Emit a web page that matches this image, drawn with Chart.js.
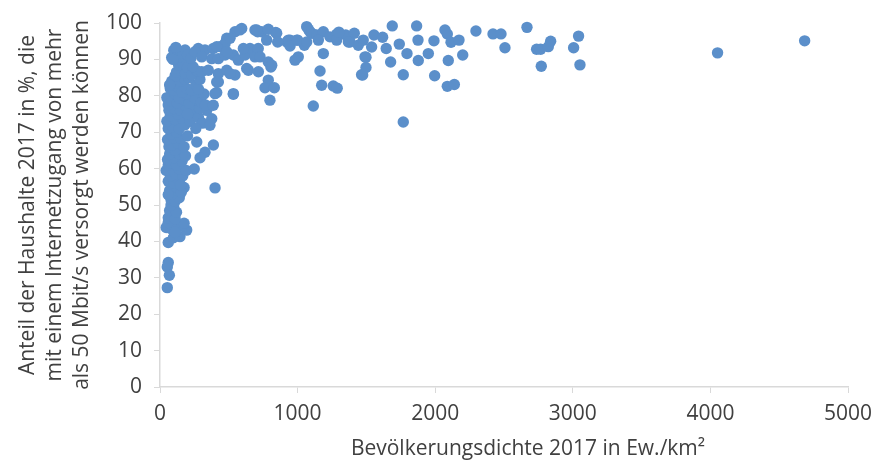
<!DOCTYPE html>
<html>
<head>
<meta charset="utf-8">
<script src="https://cdn.jsdelivr.net/npm/chart.js@4.4.1/dist/chart.umd.min.js"></script>
<style>
  html, body { margin: 0; padding: 0; background: #fff; }
</style>
</head>
<body>
<canvas id="breitbandChart" width="873" height="461"></canvas>
<script>
// Landkreise: [Bevölkerungsdichte Ew./km², Anteil Haushalte >= 50 Mbit/s in %]
const ruralCluster = [
  [60,39.7],[45,43.8],[97,41.0],[145,41.3],[194,43.1],[80,43.5],[120,44.6],[160,44.2],[60,45.2],[175,45],[110,42.5],
  [60,46.5],[85,47],[110,46.2],[70,48.5],[100,49.3],[120,48],[80,50],
  [80,51.5],[110,51],[140,52],[90,53],[70,54],[125,54],[175,54.8],[100,55],[155,53.5],[60,52.8],
  [60,56.5],[100,56],[135,57],[75,58],[115,58.5],[165,58],[45,59.5],[90,59.8],[140,60],[190,59.5],[60,61],[150,55.5],
  [55,62.5],[80,61.5],[120,61],[160,62],[100,63],[70,64],[140,64],[185,63.5],[110,65],
  [65,66],[90,66.5],[130,67],[175,66],[55,68],[100,68.5],[150,68.3],[80,69.5],[200,69],[120,70],
  [60,71],[95,71.5],[140,71],[180,72],[50,73],[110,73.5],[160,74],[75,74.5],[220,73],[130,75],
  [65,76],[100,76.5],[150,76],[190,77],[240,75.5],[280,74],[310,72.5],[260,71],[340,76],[200,75],[230,77.8],[290,76.5],
  [50,79.5],[60,77.5],[85,78.5],[125,78],[170,79],[210,78],[110,80.5],[140,79.5],[250,79.5],[300,78.2],[330,77.5],[190,80.5],[320,80.5],
  [75,82],[100,81.5],[130,82.5],[160,81],[195,82],[230,81.5],[85,84],[120,84.5],[150,84],[180,84.5],[260,83],[110,85.5],[210,85],[280,81.8],[70,83],[290,84.5],
  [120,86.5],[150,87],[185,86.3],[135,88.5],[170,88.8],[200,87.8],[230,85.8],[270,86.8],[240,88],
  [85,90.5],[100,92.5],[121,90.7],[133,92.1],[150,90.8],[182,92.6],[165,91.5],[200,91.2],[225,90.3],[115,93.3],[95,90],
  [60,34.2],[53,33],[68,30.7],[53,27.3]
];

const suburbanPoints = [
  [267,67.3],[388,66.5],[327,64.5],[291,63],[249,59.9],[400,54.7],
  [376,73.7],[363,71.9],[387,77.4],[412,80.9],[533,80.4],
  [278,93],[327,92.6],[387,93],[436,93.5],[485,95.8],[545,97.6],[594,98.5],[690,98.1],[739,97.6],[710,97.6],[787,98.3],[841,97.4],
  [581,98.1],[703,98.1],[848,97.2],[945,95.3],[921,94.8],[994,95.3],
  [254,92.1],[303,90.7],[376,90.2],[424,90.2],[473,91.2],[533,91.2],[569,89.8],[618,91.2],[654,93],[690,90.7],[714,93],[727,90.7],
  [787,89.3],[806,87.9],[812,88.4],[1005,90.7],[981,89.8],[473,94.4],[412,93.5],[509,95.8],[606,93],[485,92.1],
  [303,86.6],[351,87],[424,86.1],[485,87],[545,85.7],[642,87],[715,86.6],[630,87.5],[509,86.1],
  [412,83.8],[424,83.8],[533,80.6],[400,80.6],[787,84.3],[763,82.2],[831,82.2],[799,78.8],
  [933,95.3],[945,93.7],[855,94.8],[775,95.3]
];

const urbanPoints = [
  [1066,99],[1090,97.6],[1078,98.3],[1102,97.2],[1139,96.7],[1187,97.6],[1235,96.2],[1284,96.9],[1350,96.7],[1412,97.2],
  [1381,94.8],[1441,93.9],[1477,95.3],[1049,93.9],[1000,95.3],[1151,95.3],[1066,94.8],[1284,95.3],[1369,94.8],[1300,97.5],
  [1187,91.6],[1163,86.8],[1175,82.9],[1259,82.7],[1288,82.1],[1114,77.2],[1465,85.8],[1490,90.7],
  [1688,99.2],[1865,99.2],[2071,98.1],[2088,97],[2296,97.8],[1555,96.7],[1618,96.1],[1538,93.4],[1644,93],[1739,94.2],
  [1875,95.3],[1991,95.1],[2115,94.7],[2173,95.3],[1497,90.6],[1795,91.6],[1950,91.6],[2200,91.2],[1676,89.3],[1877,89.7],
  [2095,89.7],[1497,87.8],[1473,85.7],[1768,85.8],[1996,85.5],[2088,82.6],[2139,83.1],[1768,72.8],
  [2420,97],[2478,97],[2667,98.8],[2507,93.2],[2737,92.8],[2766,92.8],[2822,93.5],[2839,95],[2771,88.1],
  [3006,93.2],[3042,96.4],[3052,88.5],[4052,91.8],[4685,95.1]
];

const xTickValues = [0, 1000, 2000, 3000, 4000, 5000];
const yTickValues = [0, 10, 20, 30, 40, 50, 60, 70, 80, 90, 100];
const xTitle = 'Bevölkerungsdichte 2017 in Ew./km²';
const yTitle = [
  'Anteil der Haushalte 2017 in %, die',
  'mit einem Internetzugang von mehr',
  'als 50 Mbit/s versorgt werden können'
];

const fontFamily = '"Open Sans", sans-serif';
const fontSize = 21;
const textColor = '#404040';
const axisColor = '#d9d9d9';

// x title sits a bit right of the plot centre in the original
const xTitlePlugin = {
  id: 'xTitle',
  afterDraw(chart) {
    const ctx = chart.ctx;
    ctx.save();
    ctx.font = fontSize + 'px ' + fontFamily;
    ctx.fillStyle = textColor;
    ctx.textAlign = 'center';
    ctx.textBaseline = 'middle';
    const x = (chart.chartArea.left + chart.chartArea.right) / 2 + 24;
    ctx.fillText(xTitle, x, 449);
    ctx.restore();
  }
};

const allPoints = ruralCluster.concat(suburbanPoints, urbanPoints);

const ctx = document.getElementById('breitbandChart').getContext('2d');
new Chart(ctx, {
  type: 'scatter',
  data: {
    datasets: [{
      data: allPoints.map(p => ({ x: p[0], y: p[1] })),
      backgroundColor: '#5b8fca',
      borderColor: '#5b8fca',
      borderWidth: 0,
      pointRadius: 5.7,
      clip: false
    }]
  },
  options: {
    responsive: false,
    animation: false,
    layout: { padding: { left: 10, right: 25, top: 23, bottom: 35 } },
    plugins: {
      legend: { display: false },
      tooltip: { enabled: false }
    },
    scales: {
      x: {
        type: 'linear',
        min: 0,
        max: 5000,
        afterBuildTicks: axis => { axis.ticks = xTickValues.map(v => ({ value: v })); },
        afterFit: s => { s.paddingLeft = 0; s.paddingRight = 0; s.height = 39; },
        ticks: {
          color: textColor, font: { family: fontFamily, size: fontSize }, padding: 8, maxRotation: 0,
          callback: v => String(v)
        },
        grid: { drawOnChartArea: false, drawTicks: true, tickLength: 6, color: axisColor },
        border: { color: axisColor, width: 1.5 }
      },
      y: {
        min: 0,
        max: 100,
        afterBuildTicks: axis => { axis.ticks = yTickValues.map(v => ({ value: v })); },
        afterFit: s => { s.paddingTop = 0; s.paddingBottom = 0; s.width = 150; },
        ticks: {
          color: textColor, font: { family: fontFamily, size: fontSize }, padding: 12,
          callback: v => String(v)
        },
        grid: { drawOnChartArea: false, drawTicks: true, tickLength: 6, color: axisColor },
        border: { color: axisColor, width: 1.5 },
        title: {
          display: true,
          text: yTitle,
          color: textColor,
          font: { family: fontFamily, size: fontSize, lineHeight: 1.3 },
          padding: { top: 4, bottom: 11 }
        }
      }
    }
  },
  plugins: [xTitlePlugin]
});
</script>
</body>
</html>
